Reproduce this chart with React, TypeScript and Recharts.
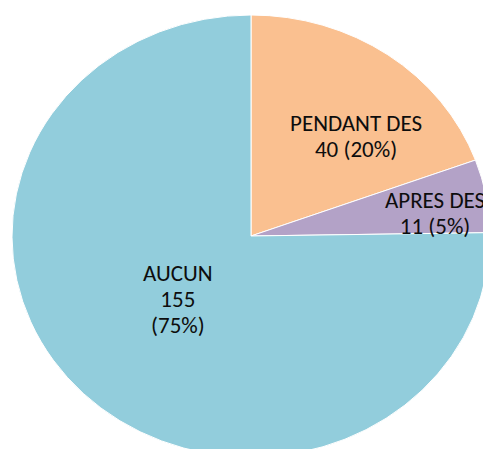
import React from "react";
import { PieChart, Pie, Cell, Sector } from "recharts";

const categories = ["PENDANT DES", "APRES DES", "AUCUN"];
const values = [40, 11, 155];
const percentLabels = ["20%", "5%", "75%"];
const colors = ["#FAC090", "#B3A2C7", "#92CDDC"];
// label placement: [radius fraction, angle (deg) relative to the slice's mid angle]
const labelRadius = [0.63, 0.777, 0.418];
const labelAngleShift = [-9.3, -2.8, -2.5];
// the original pie is slightly squashed vertically
const yScale = 221 / 239;

const data = categories.map((name, i) => ({ name, value: values[i] }));

const RADIAN = Math.PI / 180;
const FONT = "Carlito, Calibri, 'Open Sans', sans-serif";

const EllipseSector = (props: any) => {
  const { cx, cy, innerRadius, outerRadius, startAngle, endAngle, fill } = props;
  return (
    <g transform={`translate(0 ${cy}) scale(1 ${yScale}) translate(0 ${-cy})`}>
      <Sector
        cx={cx}
        cy={cy}
        innerRadius={innerRadius}
        outerRadius={outerRadius}
        startAngle={startAngle}
        endAngle={endAngle}
        fill={fill}
        stroke="#ffffff"
        strokeWidth={1}
        vectorEffect="non-scaling-stroke"
      />
    </g>
  );
};

const renderLabel = (props: any) => {
  const { cx, cy, midAngle, outerRadius, index } = props;
  const r = outerRadius * labelRadius[index];
  const a = (midAngle + labelAngleShift[index]) * RADIAN;
  const x = cx + r * Math.cos(a);
  const y = cy - r * Math.sin(a) * yScale;
  const lines =
    index === 2
      ? [categories[index], String(values[index]), `(${percentLabels[index]})`]
      : [categories[index], `${values[index]} (${percentLabels[index]})`];
  const pitch = 26;
  return (
    <text
      x={x}
      y={y}
      textAnchor="middle"
      fill="#0d0d0d"
      fontFamily={FONT}
      fontSize={23}
    >
      {lines.map((l, i) => (
        <tspan
          key={i}
          x={x}
          y={y + (i - (lines.length - 1) / 2) * pitch}
          dominantBaseline="central"
        >
          {l}
        </tspan>
      ))}
    </text>
  );
};

export default function App() {
  return (
    <div style={{ position: "absolute", left: 0, top: 0, width: 483, height: 449, background: "#fff" }}>
      <PieChart width={483} height={449} margin={{ top: 0, right: 0, bottom: 0, left: 0 }}>
        <Pie
          data={data}
          dataKey="value"
          nameKey="name"
          cx={251}
          cy={236}
          innerRadius={0}
          outerRadius={239}
          startAngle={90}
          endAngle={-270}
          isAnimationActive={false}
          label={renderLabel}
          labelLine={false}
          shape={EllipseSector}
          activeShape={EllipseSector}
          inactiveShape={EllipseSector}
          stroke="#ffffff"
        >
          {data.map((d, i) => (
            <Cell key={d.name} fill={colors[i]} />
          ))}
        </Pie>
      </PieChart>
    </div>
  );
}
